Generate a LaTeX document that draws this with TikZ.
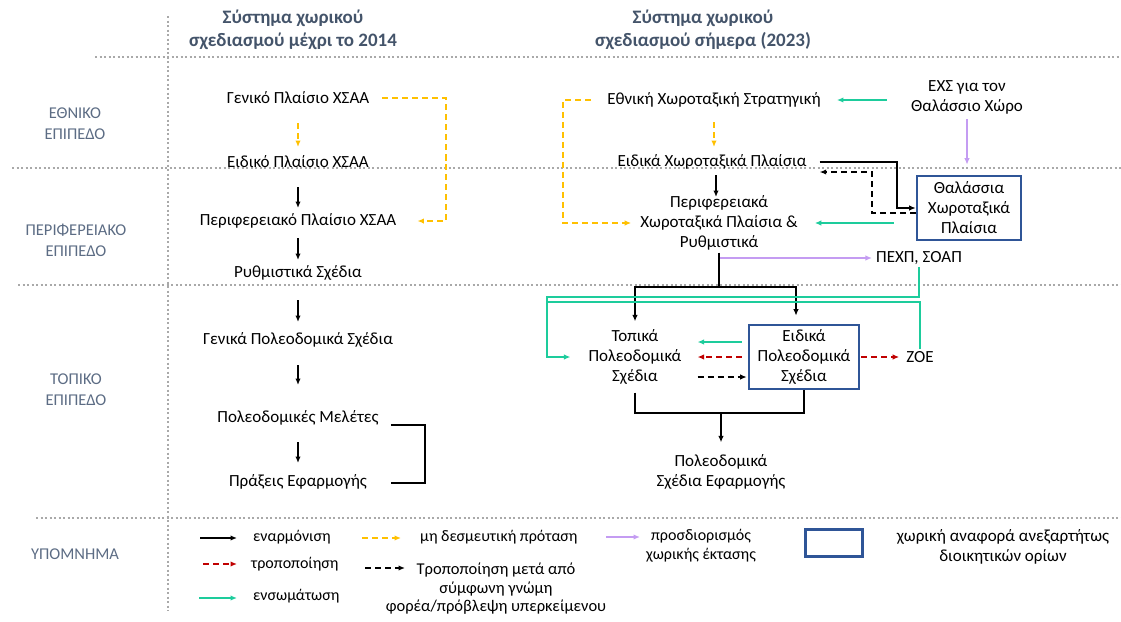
\documentclass[tikz,border=0pt]{standalone}
\usepackage{fontspec}
\setmainfont{Carlito}
\usetikzlibrary{arrows.meta,calc}
\definecolor{titlec}{HTML}{44546A}
\definecolor{levelc}{HTML}{5C6C84}
\definecolor{dotc}{HTML}{A9A9A9}
\definecolor{yellowc}{HTML}{FFC000}
\definecolor{tealc}{HTML}{1DCC9C}
\definecolor{purpc}{HTML}{C49CF2}
\definecolor{redc}{HTML}{C00000}
\definecolor{boxc}{HTML}{2F5597}
\begin{document}
\begin{tikzpicture}[x=1pt,y=-1pt,
  txt/.style={font=\fontsize{17}{20}\selectfont, align=center, inner sep=2pt},
  lgt/.style={font=\fontsize{16}{19}\selectfont, align=center, inner sep=2pt},
  ttl/.style={font=\fontsize{19}{23}\selectfont\bfseries, text=titlec, align=center},
  lvl/.style={font=\fontsize{16.5}{21}\selectfont, text=levelc, align=center},
  dotline/.style={draw=dotc, line width=2.2pt, dash pattern=on 2.2pt off 2.3pt},
  headtip/.style={-{Latex[length=6.5pt,width=5.5pt]}},
  blkln/.style={draw=black, line width=1.3pt},
  blkarr/.style={blkln, headtip},
  bdasharr/.style={blkln, dash pattern=on 6pt off 4pt, headtip},
  yelarr/.style={draw=yellowc, line width=1.3pt, dash pattern=on 6pt off 4pt, headtip},
  redarr/.style={draw=redc, line width=1.3pt, dash pattern=on 6pt off 4pt, headtip},
  tealln/.style={draw=tealc, line width=1.5pt},
  tealarr/.style={tealln, headtip},
  purparr/.style={draw=purpc, line width=1.3pt, headtip},
  bluebox/.style={draw=boxc, line width=2.6pt, inner sep=0pt}
]
\useasboundingbox (0,0) rectangle (1121,621);

% grid of dotted lines
\draw[dotline] (168,16) -- (168,611);
\draw[dotline] (95,57) -- (1121,57);
\draw[dotline] (12,168) -- (1121,168);
\draw[dotline] (18,285) -- (1121,285);
\draw[dotline] (36,518) -- (1121,518);

% titles
\node[ttl] (t1) at (293,30) {Σύστημα χωρικού\\σχεδιασμού μέχρι το 2014};
\node[ttl] (t2) at (703,30) {Σύστημα χωρικού\\σχεδιασμού σήμερα (2023)};

% level labels
\node[lvl] (l1) at (75,124) {ΕΘΝΙΚΟ\\ΕΠΙΠΕΔΟ};
\node[lvl] (l2) at (76,240) {ΠΕΡΙΦΕΡΕΙΑΚΟ\\ΕΠΙΠΕΔΟ};
\node[lvl] (l3) at (76,390) {ΤΟΠΙΚΟ\\ΕΠΙΠΕΔΟ};
\node[lvl] (l4) at (75,554) {ΥΠΟΜΝΗΜΑ};

% left column (until 2014)
\node[txt] (gpl) at (298,98) {Γενικό Πλαίσιο ΧΣΑΑ};
\node[txt] (epl) at (298,162) {Ειδικό Πλαίσιο ΧΣΑΑ};
\node[txt] (ppl) at (298,221) {Περιφερειακό Πλαίσιο ΧΣΑΑ};
\node[txt] (rs)  at (298,273) {Ρυθμιστικά Σχέδια};
\node[txt] (gps) at (298,340) {Γενικά Πολεοδομικά Σχέδια};
\node[txt] (pm)  at (298,418) {Πολεοδομικές Μελέτες};
\node[txt] (pe)  at (298,482) {Πράξεις Εφαρμογής};

\draw[yelarr, shorten <=25pt, shorten >=15pt] (gpl.center) -- (epl.center);
\draw[blkarr, shorten <=25pt, shorten >=13pt] (epl.center) -- (ppl.center);
\draw[blkarr, shorten <=17pt, shorten >=13pt] (ppl.center) -- (rs.center);
\draw[blkarr, shorten <=27pt, shorten >=18pt] (rs.center) -- (gps.center);
\draw[blkarr, shorten <=25pt, shorten >=33pt] (gps.center) -- (pm.center);
\draw[blkarr, shorten <=24pt, shorten >=19pt] (pm.center) -- (pe.center);

\coordinate (yb1) at (446,160);
\draw[yelarr, shorten <=11pt, shorten >=19pt] (gpl.east) -| (yb1) |- (ppl.east);
\coordinate (bk) at (425,450);
\draw[blkln] ($(pm.east)+(10,7)$) -| (bk) |- ($(pe.east)+(22,1)$);

% right column (today)
\node[txt] (ehs) at (714,100) {Εθνική Χωροταξική Στρατηγική};
\node[txt] (exs) at (967,97) {ΕΧΣ για τον\\Θαλάσσιο Χώρο};
\node[txt] (ehp) at (712,162) {Ειδικά Χωροταξικά Πλαίσια};
\node[txt] (perif) at (719,223) {Περιφερειακά\\Χωροταξικά Πλαίσια \&\\Ρυθμιστικά};
\node[txt, bluebox, minimum width=104pt, minimum height=64pt] (thal) at (969,208) {Θαλάσσια\\Χωροταξικά\\Πλαίσια};
\node[txt] (pexp) at (919,258) {ΠΕΧΠ, ΣΟΑΠ};
\node[txt] (top) at (635,357) {Τοπικά\\Πολεοδομικά\\Σχέδια};
\node[txt, bluebox, minimum width=110pt, minimum height=64pt] (eid) at (804,357) {Ειδικά\\Πολεοδομικά\\Σχέδια};
\node[txt] (zoe) at (920,357) {ΖΟΕ};
\node[txt] (pse) at (721,472) {Πολεοδομικά\\Σχέδια Εφαρμογής};

\draw[tealarr, shorten <=22pt, shorten >=14pt] (exs.west |- ehs.east) -- (ehs.east);
\draw[purparr, shorten <=3pt, shorten >=10pt] (exs.south) -- (exs.south |- thal.north);
\draw[yelarr, shorten <=22pt, shorten >=15pt] (ehs.center) -- (ehs.center |- ehp.center);
\coordinate (yb2) at (563,160);
\draw[yelarr, shorten <=14pt, shorten >=7pt] (ehs.west) -| (yb2) |- (perif.west);
\draw[blkarr, shorten <=13pt, shorten >=26pt] ($(ehp.center)+(4,0)$) -- ($(ehp.center |- perif.center)+(4,0)$);

\coordinate (sb) at (897,190);
\draw[blkarr, shorten <=11pt] (ehp.east) -| (sb) |- (thal.west);
\coordinate (db) at (872,190);
\draw[bdasharr, shorten >=11pt] ($(thal.west)+(0,5)$) -| (db) |- ($(ehp.east)+(0,10)$);
\draw[tealarr, shorten <=22pt, shorten >=15pt] (thal.west |- perif.east) -- (perif.east);

\draw[purparr, shorten >=2pt] (perif.south |- pexp.west) -- (pexp.west);
\coordinate (jn2) at (719,287);
\draw[blkln] (perif.south) -- (jn2);
\draw[blkarr, shorten >=6pt] (jn2) -| (top.north);
\draw[blkarr, shorten >=8pt] (jn2) -| ($(eid.north)+(-8,0)$);

\coordinate (tA) at (547,297);
\coordinate (tB) at (548,302);
\draw[tealarr, shorten >=16pt] (pexp.south) |- (tA) |- (top.west);
\draw[tealln] (zoe.north) |- (tB);

\draw[tealarr, shorten <=6pt, shorten >=14pt] ($(eid.west)+(0,-15)$) -- ($(top.east)+(0,-15)$);
\draw[redarr, shorten <=6pt, shorten >=14pt] (eid.west) -- (top.east);
\draw[bdasharr, shorten <=14pt, shorten >=1pt] ($(top.east)+(0,20)$) -- ($(eid.west)+(0,20)$);
\draw[redarr, shorten <=1pt, shorten >=5pt] (eid.east) -- (zoe.west);

\coordinate (jn3) at (721,413);
\draw[blkln, shorten <=6pt] (top.south) |- (jn3) -| (eid.south);
\draw[blkarr, shorten >=10pt] (jn3) -- (pse.north);

% legend
\node[lgt, anchor=west] (lg1) at (251,537) {εναρμόνιση};
\node[lgt, anchor=west] (lg2) at (249,564) {τροποποίηση};
\node[lgt, anchor=west] (lg3) at (251,596) {ενσωμάτωση};
\node[lgt, anchor=west] (lg4) at (418,537) {μη δεσμευτική πρόταση};
\node[txt, font=\fontsize{16.5}{18.5}\selectfont] (lg5) at (496,589) {Τροποποίηση μετά από\\σύμφωνη γνώμη\\φορέα/πρόβλεψη υπερκείμενου};
\node[lgt] (lg6) at (701,546) {προσδιορισμός\\χωρικής έκτασης};
\node[bluebox, minimum width=57pt, minimum height=27pt] (lgbox) at (834,543) {};
\node[txt] (lg7) at (1003,547) {χωρική αναφορά ανεξαρτήτως\\διοικητικών ορίων};

\draw[blkarr] ($(lg1.west)+(-51,1)$) -- ($(lg1.west)+(-14,1)$);
\draw[redarr] ($(lg2.west)+(-46,0)$) -- ($(lg2.west)+(-12,0)$);
\draw[tealarr] ($(lg3.west)+(-52,2)$) -- ($(lg3.west)+(-14,2)$);
\draw[yelarr] ($(lg4.west)+(-56,1)$) -- ($(lg4.west)+(-17,1)$);
\draw[bdasharr] ($(lg5.center)+(-131,-21)$) -- ++(40,0);
\draw[purparr] ($(lg6.center)+(-95,-9)$) -- ++(34,0);
\end{tikzpicture}
\end{document}
